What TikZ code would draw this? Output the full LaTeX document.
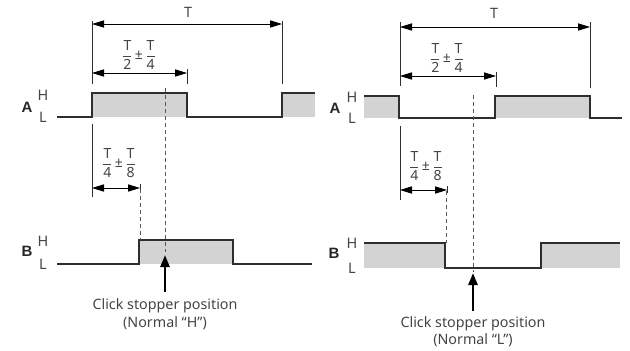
\documentclass[tikz,border=0pt]{standalone}
\usepackage{fontspec}
\setmainfont{Noto Sans}
\newfontfamily\labfont{Liberation Sans}
\usetikzlibrary{arrows.meta}
\definecolor{sigcol}{HTML}{2E2E2E}
\definecolor{fillcol}{HTML}{D3D3D3}
\definecolor{txtcol}{HTML}{444444}
\newcommand{\myfr}[1]{\displaystyle\frac{\mbox{T}}{\mbox{#1}}}
\newcommand{\mypm}{\mbox{\,±\,}}
\begin{document}
\begin{tikzpicture}[x=1pt,y=-1pt,
  sig/.style={draw=sigcol,line width=1.4pt,line join=miter},
  hfill/.style={fill=fillcol,draw=none},
  dimline/.style={draw=black,fill=black,line width=0.9pt,arrows={Triangle[length=12pt,width=7.2pt,fill=black]-Triangle[length=12pt,width=7.2pt,fill=black]}},
  extline/.style={draw=sigcol,line width=0.7pt},
  dashline/.style={draw=sigcol!80,line width=0.8pt,dash pattern=on 4pt off 3pt},
  bigarrow/.style={draw=black,line width=2.6pt,arrows={-Triangle[length=12pt,width=9pt]}},
  lbl/.style={text=txtcol,font=\fontsize{14.3}{16}\selectfont,inner sep=0pt},
  hl/.style={text=txtcol,font=\fontsize{14.5}{16}\selectfont,inner sep=0pt},
  ch/.style={text=black!85,font=\fontsize{15}{16}\selectfont\labfont\bfseries,inner sep=0pt},
  frlbl/.style={text=txtcol,font=\fontsize{14}{16}\selectfont,inner sep=0pt}
]
\useasboundingbox (0,0) rectangle (630,351);

% ================= LEFT PANEL =================
\fill[hfill] (92,93) rectangle (187,117);
\fill[hfill] (282,93) rectangle (315,117);
\fill[hfill] (139,240) rectangle (233,264);
\draw[sig] (57,117) -- (92,117) -- (92,93) -- (187,93) -- (187,117) -- (282,117) -- (282,93) -- (315,93);
\draw[sig] (57,264) -- (139,264) -- (139,240) -- (233,240) -- (233,264) -- (312,264);
\node[ch] (lA) at (27,107) {A};
\node[hl] (lAH) at (43,95) {H};
\node[hl] (lAL) at (43,117) {L};
\node[ch] (lB) at (27,251) {B};
\node[hl] (lBH) at (43,241) {H};
\node[hl] (lBL) at (43,264) {L};
\coordinate (le1a) at (92,21); \coordinate (le1b) at (92,84);
\coordinate (le2a) at (92,124); \coordinate (le2b) at (92,197);
\coordinate (le3a) at (282,21); \coordinate (le3b) at (282,84);
\coordinate (le4a) at (187,69); \coordinate (le4b) at (187,84);
\coordinate (le5a) at (140,184); \coordinate (le5b) at (140,191);
\draw[extline] (le1a) -- (le1b);
\draw[extline] (le2a) -- (le2b);
\draw[extline] (le3a) -- (le3b);
\draw[extline] (le4a) -- (le4b);
\draw[extline] (le5a) -- (le5b);
\coordinate (lT1) at (92,24); \coordinate (lT2) at (282,24);
\draw[dimline] (lT1) -- (lT2);
\node[lbl] (lTlab) at (188,12) {T};
\coordinate (lH1) at (92,73); \coordinate (lH2) at (187,73);
\draw[dimline] (lH1) -- (lH2);
\node[frlbl] (lHlab) at (139,55) {$\myfr{2}\mypm\myfr{4}$};
\coordinate (lQ1) at (92,188); \coordinate (lQ2) at (140,188);
\draw[dimline] (lQ1) -- (lQ2);
\node[frlbl] (lQlab) at (119,163) {$\myfr{4}\mypm\myfr{8}$};
\coordinate (ld1a) at (165,88); \coordinate (ld1b) at (165,252);
\draw[dashline] (ld1a) -- (ld1b);
\coordinate (ld2a) at (140,189); \coordinate (ld2b) at (140,240);
\draw[dashline] (ld2a) -- (ld2b);
\coordinate (lba) at (165,292); \coordinate (lbb) at (165,255);
\draw[bigarrow] (lba) -- (lbb);
\node[lbl] (lc1) at (165,306) {Click stopper position};
\node[lbl] (lc2) at (165,323) {(Normal “H”)};

% ================= RIGHT PANEL =================
\fill[hfill] (364,96) rectangle (399,118);
\fill[hfill] (495,96) rectangle (590,118);
\fill[hfill] (364,243) rectangle (445,268);
\fill[hfill] (541,243) rectangle (620,268);
\draw[sig] (364,96) -- (399,96) -- (399,118) -- (495,118) -- (495,96) -- (590,96) -- (590,118) -- (622,118);
\draw[sig] (364,243) -- (445,243) -- (445,268) -- (541,268) -- (541,243) -- (620,243);
\node[ch] (rA) at (335,108) {A};
\node[hl] (rAH) at (352,97) {H};
\node[hl] (rAL) at (352,118) {L};
\node[ch] (rB) at (334,253) {B};
\node[hl] (rBH) at (352,243) {H};
\node[hl] (rBL) at (352,268) {L};
\coordinate (re1a) at (400,22); \coordinate (re1b) at (400,86);
\coordinate (re2a) at (400,126); \coordinate (re2b) at (400,200);
\coordinate (re3a) at (590,22); \coordinate (re3b) at (590,88);
\coordinate (re4a) at (496,72); \coordinate (re4b) at (496,87);
\coordinate (re5a) at (447,186); \coordinate (re5b) at (447,193);
\draw[extline] (re1a) -- (re1b);
\draw[extline] (re2a) -- (re2b);
\draw[extline] (re3a) -- (re3b);
\draw[extline] (re4a) -- (re4b);
\draw[extline] (re5a) -- (re5b);
\coordinate (rT1) at (400,27); \coordinate (rT2) at (590,27);
\draw[dimline] (rT1) -- (rT2);
\node[lbl] (rTlab) at (494,13) {T};
\coordinate (rH1) at (400,76); \coordinate (rH2) at (496,76);
\draw[dimline] (rH1) -- (rH2);
\node[frlbl] (rHlab) at (447,58) {$\myfr{2}\mypm\myfr{4}$};
\coordinate (rQ1) at (400,190); \coordinate (rQ2) at (447,190);
\draw[dimline] (rQ1) -- (rQ2);
\node[frlbl] (rQlab) at (426,166) {$\myfr{4}\mypm\myfr{8}$};
\coordinate (rd1a) at (473,95); \coordinate (rd1b) at (473,272);
\draw[dashline] (rd1a) -- (rd1b);
\coordinate (rd2a) at (446,191); \coordinate (rd2b) at (446,243);
\draw[dashline] (rd2a) -- (rd2b);
\coordinate (rba) at (473,311); \coordinate (rbb) at (473,273);
\draw[bigarrow] (rba) -- (rbb);
\node[lbl] (rc1) at (473,324) {Click stopper position};
\node[lbl] (rc2) at (473,340) {(Normal “L”)};
\end{tikzpicture}
\end{document}
